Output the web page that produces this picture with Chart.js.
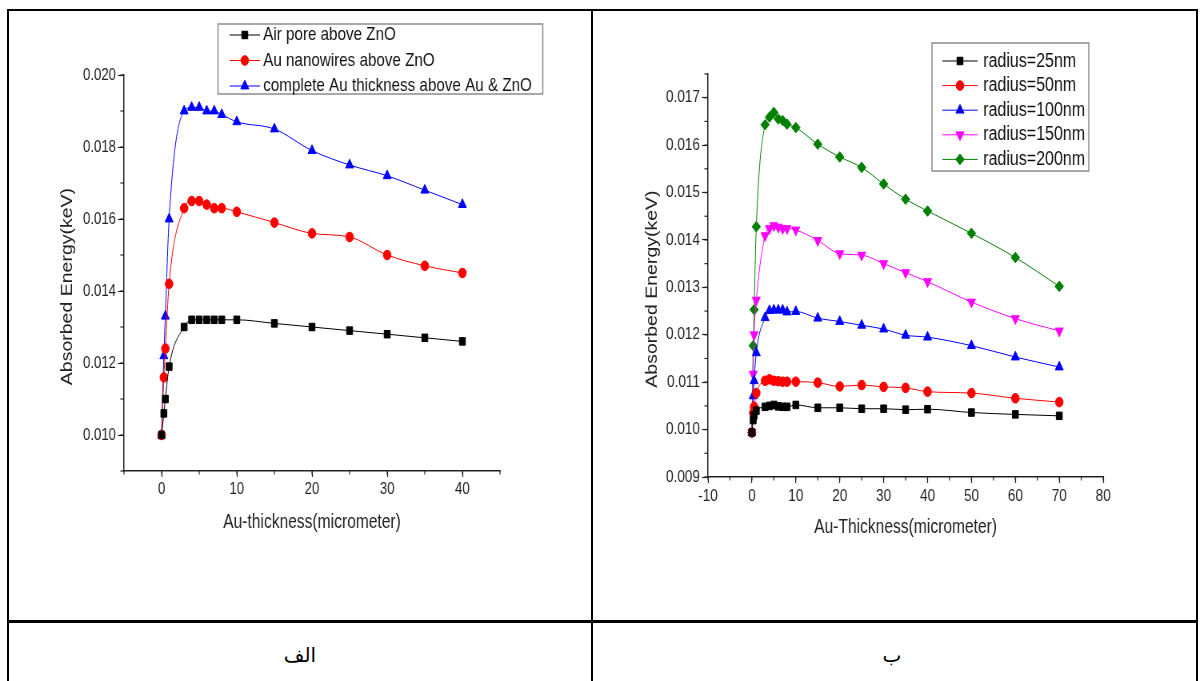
<!DOCTYPE html>
<html>
<head>
<meta charset="utf-8">
<script src="https://cdn.jsdelivr.net/npm/chart.js@4.4.0/dist/chart.umd.min.js"></script>
<style>
  html, body { margin: 0; padding: 0; background: #fff; }
  body { width: 1202px; height: 681px; position: relative; overflow: hidden; }
  .line { position: absolute; background: #000; }
  .squeeze { position: absolute; top: 15px; transform: scaleX(0.8); transform-origin: 0 0; }
  .caption { position: absolute; top: 643px; width: 584px; text-align: center;
             font-family: 'DejaVu Sans', sans-serif; font-size: 20px; color: #000; }
</style>
</head>
<body>
  <div class="line" style="left:7px; top:9px; width:1191px; height:2px;"></div>
  <div class="line" style="left:7px; top:9px; width:2px; height:672px;"></div>
  <div class="line" style="left:1196px; top:9px; width:2px; height:672px;"></div>
  <div class="line" style="left:591px; top:9px; width:2px; height:672px;"></div>
  <div class="line" style="left:7px; top:620px; width:1191px; height:3px;"></div>

  <canvas id="chart-left" class="squeeze" style="left:20px;" width="680" height="540"></canvas>
  <canvas id="chart-right" class="squeeze" style="left:600px;" width="700" height="540"></canvas>

  <div class="caption" style="left:8px;" dir="rtl">الف</div>
  <div class="caption" style="left:600px;" dir="rtl">ب</div>

<script>
// --- left chart data ---
const leftThickness = [0, 0.3, 0.5, 1, 3, 4, 5, 6, 7, 8, 10, 15, 20, 25, 30, 35, 40];
const airPore     = [0.0100, 0.0106, 0.0110, 0.0119, 0.0130, 0.0132, 0.0132, 0.0132, 0.0132, 0.0132, 0.0132, 0.0131, 0.0130, 0.0129, 0.0128, 0.0127, 0.0126];
const auNanowires = [0.0100, 0.0116, 0.0124, 0.0142, 0.0163, 0.0165, 0.0165, 0.0164, 0.0163, 0.0163, 0.0162, 0.0159, 0.0156, 0.0155, 0.0150, 0.0147, 0.0145];
const completeAu  = [0.0100, 0.0122, 0.0133, 0.0160, 0.0190, 0.0191, 0.0191, 0.0190, 0.0190, 0.0189, 0.0187, 0.0185, 0.0179, 0.0175, 0.0172, 0.0168, 0.0164];
const leftXTicks = [0, 10, 20, 30, 40];
const leftYTicks = [0.010, 0.012, 0.014, 0.016, 0.018, 0.020];

// --- right chart data ---
const rightThickness = [0, 0.3, 0.5, 1, 3, 4, 5, 6, 7, 8, 10, 15, 20, 25, 30, 35, 40, 50, 60, 70];
const radius25  = [0.00994, 0.01020, 0.01030, 0.01040, 0.01048, 0.01050, 0.01052, 0.01049, 0.01048, 0.01048, 0.01052, 0.01046, 0.01046, 0.01044, 0.01044, 0.01042, 0.01043, 0.01036, 0.01032, 0.01029];
const radius50  = [0.00994, 0.01035, 0.01048, 0.01077, 0.01103, 0.01106, 0.01103, 0.01102, 0.01101, 0.01101, 0.01101, 0.01099, 0.01091, 0.01094, 0.01090, 0.01088, 0.01080, 0.01077, 0.01066, 0.01058];
const radius100 = [0.00994, 0.01071, 0.01103, 0.01162, 0.01236, 0.01251, 0.01252, 0.01252, 0.01252, 0.01248, 0.01249, 0.01235, 0.01228, 0.01220, 0.01212, 0.01199, 0.01195, 0.01177, 0.01153, 0.01132];
const radius150 = [0.00994, 0.01117, 0.01200, 0.01273, 0.01409, 0.01424, 0.01430, 0.01427, 0.01424, 0.01424, 0.01421, 0.01399, 0.01371, 0.01368, 0.01350, 0.01331, 0.01312, 0.01269, 0.01234, 0.01208];
const radius200 = [0.00994, 0.01177, 0.01253, 0.01428, 0.01643, 0.01659, 0.01669, 0.01655, 0.01652, 0.01644, 0.01637, 0.01602, 0.01575, 0.01553, 0.01518, 0.01486, 0.01461, 0.01414, 0.01363, 0.01302];
const rightXTicks = [-10, 0, 10, 20, 30, 40, 50, 60, 70, 80];
const rightYTicks = [0.009, 0.010, 0.011, 0.012, 0.013, 0.014, 0.015, 0.016, 0.017];

const fontFamily = "'Liberation Sans', Arial, sans-serif";
const axisColor = '#222';
// the Origin plots set the y title a bit below the axis middle; trailing spaces push it down
const yTitle = 'Absorbed Energy(keV)     ';

Chart.defaults.font.family = fontFamily;
Chart.defaults.color = axisColor;

function points(xs, ys) {
    return xs.map((x, i) => ({ x: x, y: ys[i] }));
}

function series(label, xs, ys, color, style, radius, rotation) {
    return {
        label: label,
        data: points(xs, ys),
        borderColor: color,
        backgroundColor: color,
        borderWidth: 1,
        pointStyle: style,
        pointRadius: radius,
        pointRotation: rotation || 0,
        pointBorderWidth: 1,
        cubicInterpolationMode: 'monotone',
    };
}

// small outer ticks between the labelled ones
const minorTicks = {
    id: 'minorTicks',
    afterDraw(chart, args, opts) {
        const ctx = chart.ctx;
        ctx.save();
        ctx.strokeStyle = axisColor;
        ctx.lineWidth = 1.2;
        ['x', 'y'].forEach(id => {
            const scale = chart.scales[id];
            const step = opts[id];
            const n = Math.round((scale.max - scale.min) / step);
            for (let i = 0; i <= n; i++) {
                const p = scale.getPixelForValue(scale.min + i * step);
                ctx.beginPath();
                if (id === 'x') {
                    ctx.moveTo(p, scale.top);
                    ctx.lineTo(p, scale.top + 3.5);
                } else {
                    ctx.moveTo(scale.right, p);
                    ctx.lineTo(scale.right - 4.5, p);
                }
                ctx.stroke();
            }
        });
        ctx.restore();
    }
};

// framed legend that sits over the top of the plot, like the Origin one
const boxLegend = {
    id: 'boxLegend',
    afterDraw(chart, args, o) {
        const ctx = chart.ctx;
        ctx.save();
        ctx.fillStyle = '#fff';
        ctx.fillRect(o.left, o.top, o.width, o.height);
        ctx.strokeStyle = '#8c8c8c';
        ctx.lineWidth = 1.5;
        ctx.strokeRect(o.left, o.top, o.width, o.height);
        ctx.font = o.fontSize + 'px ' + fontFamily;
        ctx.textBaseline = 'middle';
        chart.data.datasets.forEach((ds, i) => {
            const y = o.firstRow + i * o.rowGap;
            ctx.strokeStyle = ds.borderColor;
            ctx.fillStyle = ds.backgroundColor;
            ctx.lineWidth = 1;
            ctx.beginPath();
            ctx.moveTo(o.lineFrom, y);
            ctx.lineTo(o.lineTo, y);
            ctx.stroke();
            Chart.helpers.drawPoint(ctx, {
                pointStyle: ds.pointStyle,
                radius: ds.pointRadius,
                rotation: ds.pointRotation,
                borderWidth: 1
            }, (o.lineFrom + o.lineTo) / 2, y);
            ctx.fillStyle = '#111';
            ctx.fillText(ds.label, o.textX, y);
        });
        ctx.restore();
    }
};

function axes(cfg) {
    return {
        x: {
            type: 'linear',
            min: cfg.xMin, max: cfg.xMax,
            afterBuildTicks: (scale) => { scale.ticks = cfg.xTicks.map(v => ({ value: v })); },
            afterFit: (scale) => { scale.height = cfg.xHeight; },
            border: { display: true, color: axisColor, width: 1.5 },
            grid: { display: true, drawOnChartArea: false, drawTicks: true, tickLength: 6, tickColor: axisColor, tickWidth: 1.2 },
            ticks: { font: { size: cfg.tickSize }, padding: 3, color: axisColor, maxRotation: 0, callback: v => String(v) },
            title: { display: true, text: cfg.xTitle, font: { size: cfg.titleSize }, color: axisColor, padding: 0 }
        },
        y: {
            type: 'linear',
            min: cfg.yMin, max: cfg.yMax,
            afterBuildTicks: (scale) => { scale.ticks = cfg.yTicks.map(v => ({ value: v })); },
            afterFit: (scale) => { scale.width = cfg.yWidth; },
            border: { display: true, color: axisColor, width: 1.5 },
            grid: { display: true, drawOnChartArea: false, drawTicks: true, tickLength: 7.5, tickColor: axisColor, tickWidth: 1.2 },
            ticks: { font: { size: cfg.tickSize }, padding: 2.5, color: axisColor, callback: v => v.toFixed(3) },
            title: { display: true, text: yTitle, font: { size: 19.5 }, color: axisColor, padding: 0 }
        }
    };
}

new Chart(document.getElementById('chart-left'), {
    type: 'line',
    data: {
        datasets: [
            series('Air pore above ZnO', leftThickness, airPore, '#000000', 'rect', 5.3),
            series('Au nanowires above ZnO', leftThickness, auNanowires, '#ff0000', 'circle', 4.8),
            series('complete Au thickness above Au & ZnO', leftThickness, completeAu, '#0000ff', 'triangle', 5.8)
        ]
    },
    options: {
        responsive: false,
        animation: false,
        layout: { padding: { left: 48, top: 60, right: 80, bottom: 21 } },
        plugins: {
            legend: { display: false },
            tooltip: { enabled: false },
            minorTicks: { x: 5, y: 0.001 },
            boxLegend: { left: 247.5, top: 9, width: 406, height: 70, firstRow: 20, rowGap: 25.5,
                         lineFrom: 262, lineTo: 300, textX: 304, fontSize: 19 }
        },
        scales: axes({
            xMin: -5, xMax: 45, xTicks: leftXTicks, xHeight: 63,
            yMin: 0.009, yMax: 0.020, yTicks: leftYTicks, yWidth: 82,
            tickSize: 16.5, titleSize: 19.5, xTitle: 'Au-thickness(micrometer)'
        })
    },
    plugins: [minorTicks, boxLegend]
});

new Chart(document.getElementById('chart-right'), {
    type: 'line',
    data: {
        datasets: [
            series('radius=25nm', rightThickness, radius25, '#000000', 'rect', 5.3),
            series('radius=50nm', rightThickness, radius50, '#ff0000', 'circle', 4.8),
            series('radius=100nm', rightThickness, radius100, '#0000ff', 'triangle', 5.8),
            series('radius=150nm', rightThickness, radius150, '#ff00ff', 'triangle', 5.8, 180),
            series('radius=200nm', rightThickness, radius200, '#008000', 'rectRot', 5.3)
        ]
    },
    options: {
        responsive: false,
        animation: false,
        layout: { padding: { left: 54, top: 59, right: 71, bottom: 16 } },
        plugins: {
            legend: { display: false },
            tooltip: { enabled: false },
            minorTicks: { x: 5, y: 0.0005 },
            boxLegend: { left: 415, top: 28, width: 196, height: 128, firstRow: 46, rowGap: 24.6,
                         lineFrom: 428, lineTo: 472, textX: 479, fontSize: 20 }
        },
        scales: axes({
            xMin: -10, xMax: 80, xTicks: rightXTicks, xHeight: 62,
            yMin: 0.009, yMax: 0.0175, yTicks: rightYTicks, yWidth: 81,
            tickSize: 17, titleSize: 19.5, xTitle: 'Au-Thickness(micrometer)'
        })
    },
    plugins: [minorTicks, boxLegend]
});
</script>
</body>
</html>
